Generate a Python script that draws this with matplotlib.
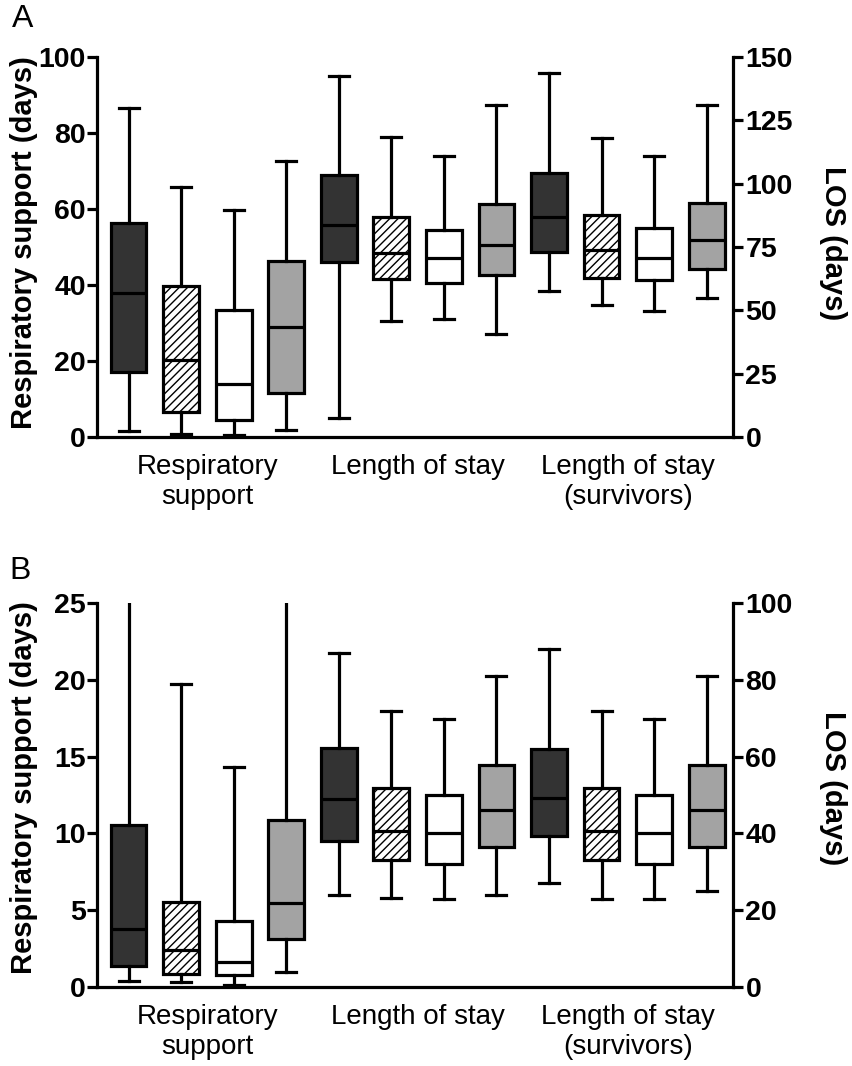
import matplotlib
matplotlib.use("Agg")
import matplotlib.pyplot as plt

plt.rcParams['font.family'] = ['Liberation Sans', 'DejaVu Sans']
plt.rcParams['hatch.linewidth'] = 1.0

# ---------------- data ----------------
group_labels = ["Respiratory\nsupport", "Length of stay", "Length of stay\n(survivors)"]
fill_styles = ['dark', 'hatch', 'white', 'grey'] * 3

# Panel A  (boxes 1-4 on left axis, 5-12 on right LOS axis)
A_whislo = [1.7, 0.7, 0.6, 1.8, 7.6, 45.8, 46.5, 40.5, 57.6, 52.0, 49.7, 55.0]
A_q1     = [17.2, 6.7, 4.6, 11.5, 69.1, 62.2, 60.9, 63.8, 73.2, 62.8, 61.9, 66.5]
A_med    = [38.0, 20.3, 13.9, 28.9, 83.7, 72.8, 70.5, 75.7, 86.8, 73.7, 70.5, 77.8]
A_q3     = [56.4, 39.8, 33.4, 46.4, 103.3, 86.8, 81.6, 92.1, 104.3, 87.8, 82.6, 92.5]
A_whishi = [86.5, 65.9, 59.7, 72.6, 142.5, 118.6, 110.9, 130.9, 143.8, 118.2, 110.9, 130.9]
A_left_ticks = [0, 20, 40, 60, 80, 100]
A_right_ticks = [0, 25, 50, 75, 100, 125, 150]

# Panel B
B_whislo = [0.39, 0.33, 0.15, 0.98, 23.9, 23.1, 22.9, 23.9, 27.1, 22.9, 22.9, 25.1]
B_q1     = [1.37, 0.87, 0.76, 3.1, 38.1, 33.2, 32.0, 36.4, 39.2, 33.2, 32.0, 36.4]
B_med    = [3.8, 2.39, 1.63, 5.47, 49.0, 40.7, 40.0, 46.0, 49.2, 40.7, 40.0, 46.1]
B_q3     = [10.53, 5.53, 4.28, 10.85, 62.2, 51.9, 49.9, 57.9, 62.1, 51.9, 49.9, 57.7]
B_whishi = [28.0, 19.75, 14.32, 28.0, 86.9, 71.9, 69.9, 81.0, 88.0, 71.9, 69.9, 81.0]
B_left_ticks = [0, 5, 10, 15, 20, 25]
B_right_ticks = [0, 20, 40, 60, 80, 100]

left_label = "Respiratory support (days)"
right_label = "LOS (days)"

# ---------------- style ----------------
LW = 2.3
colors = {'dark': '#333333', 'hatch': 'white', 'white': 'white', 'grey': '#a3a3a3'}

fig = plt.figure(figsize=(8.53, 10.66), dpi=100)


def panel(rect, letter, letter_pos, whislo, q1, med, q3, whishi, lticks, rticks,
          lab_y):
    ax = fig.add_axes(rect)
    ax2 = ax.twinx()
    stats = []
    for i in range(len(med)):
        stats.append(dict(whislo=whislo[i], q1=q1[i], med=med[i], q3=q3[i],
                          whishi=whishi[i], fliers=[]))
    pos = list(range(1, len(med) + 1))
    kw = dict(widths=0.68, capwidths=0.38, patch_artist=True, showfliers=False,
              boxprops=dict(linewidth=LW, edgecolor='black'),
              whiskerprops=dict(linewidth=LW, color='black'),
              capprops=dict(linewidth=LW, color='black'),
              medianprops=dict(linewidth=LW, color='black'), manage_ticks=False)
    r1 = ax.bxp(stats[:4], positions=pos[:4], **kw)
    r2 = ax2.bxp(stats[4:], positions=pos[4:], **kw)
    boxes = r1['boxes'] + r2['boxes']
    for b, st in zip(boxes, fill_styles):
        b.set_facecolor(colors[st])
        if st == 'hatch':
            b.set_hatch('////')
    for a in (ax, ax2):
        a.set_xlim(0.4, 12.5)
        for s in a.spines.values():
            s.set_linewidth(LW)
        a.spines['top'].set_visible(False)
    ax.spines['right'].set_visible(False)
    ax2.spines['left'].set_visible(False)
    ax2.spines['bottom'].set_visible(False)
    ax.set_ylim(lticks[0], lticks[-1])
    ax2.set_ylim(rticks[0], rticks[-1])
    ax.set_yticks(lticks)
    ax2.set_yticks(rticks)
    ax.tick_params(axis='y', length=7, width=LW, pad=1, labelsize=20.5)
    ax2.tick_params(axis='y', length=7, width=LW, pad=2, labelsize=20.5)
    for t in ax.get_yticklabels() + ax2.get_yticklabels():
        t.set_fontweight('bold')
    ax.set_xticks([2.5, 6.5, 10.5])
    ax.set_xticklabels(group_labels, fontsize=20)
    ax.tick_params(axis='x', length=0, pad=12)
    ax2.tick_params(axis='x', length=0)
    fig.text(24 / 853, lab_y, left_label, rotation=90, ha='center', va='center',
             fontsize=21, fontweight='bold')
    fig.text(833 / 853, lab_y, right_label, rotation=270, ha='center', va='center',
             fontsize=21, fontweight='bold')
    fig.text(letter_pos[0], letter_pos[1], letter, fontsize=23, ha='left', va='top')


panel([0.1137, 0.590, 0.7456, 0.3565], 'A', (12 / 853, 1 - 4 / 1066),
      A_whislo, A_q1, A_med, A_q3, A_whishi, A_left_ticks, A_right_ticks,
      1 - 243 / 1066)
panel([0.1137, 0.0741, 0.7456, 0.3602], 'B', (9 / 853, 1 - 556 / 1066),
      B_whislo, B_q1, B_med, B_q3, B_whishi, B_left_ticks, B_right_ticks,
      1 - 788 / 1066)

fig.savefig('out.png', dpi=100)
